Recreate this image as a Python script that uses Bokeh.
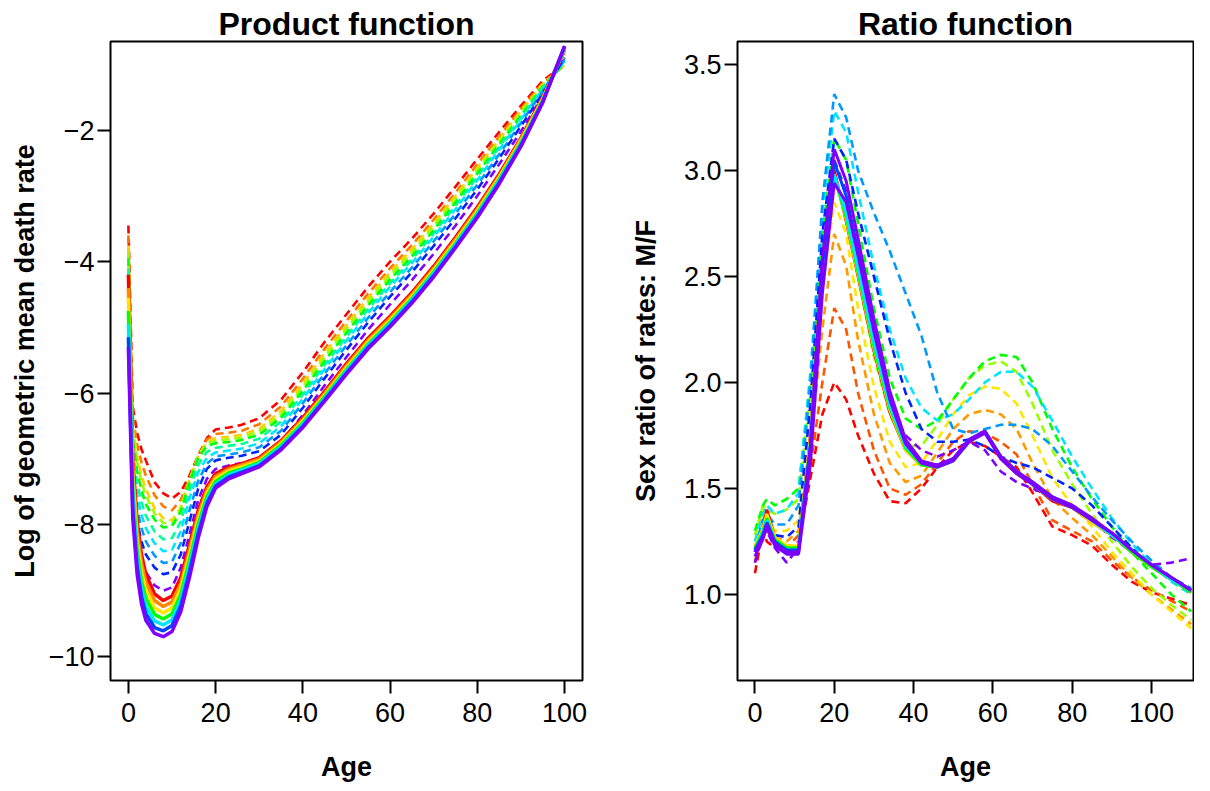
from bokeh.plotting import figure
from bokeh.layouts import row
from bokeh.models import Range1d, FixedTicker
from bokeh.embed import file_html
from bokeh.resources import INLINE

# ---------------- data: left panel (product function) ----------------
AGE_L = [0, 1, 2, 3, 4, 6, 8, 10, 12, 14, 16, 18, 20, 23, 26, 30, 35, 40, 45, 50,
         55, 60, 65, 70, 75, 80, 85, 90, 95, 100]

# observed (dashed) curves, earliest (red) to latest (violet)
prod_obs_red    = [-3.45, -6.20, -6.60, -6.85, -7.02, -7.35, -7.52, -7.60, -7.50, -7.25, -6.95, -6.68, -6.55, -6.52, -6.48, -6.38, -6.10, -5.68, -5.22, -4.80, -4.38, -4.00, -3.65, -3.27, -2.86, -2.44, -2.03, -1.63, -1.25, -1.00]
prod_obs_orange = [-3.60, -6.35, -6.78, -7.05, -7.25, -7.55, -7.72, -7.78, -7.62, -7.30, -6.96, -6.70, -6.62, -6.60, -6.57, -6.47, -6.20, -5.78, -5.32, -4.90, -4.48, -4.10, -3.75, -3.36, -2.95, -2.52, -2.10, -1.68, -1.28, -1.02]
prod_obs_yellow = [-3.75, -6.50, -6.95, -7.25, -7.45, -7.75, -7.90, -7.93, -7.74, -7.32, -6.96, -6.74, -6.68, -6.66, -6.63, -6.54, -6.27, -5.85, -5.39, -4.97, -4.55, -4.16, -3.81, -3.42, -3.00, -2.57, -2.14, -1.71, -1.30, -1.01]
prod_obs_lime   = [-3.85, -6.60, -7.05, -7.35, -7.55, -7.83, -7.97, -7.98, -7.76, -7.32, -6.96, -6.76, -6.72, -6.70, -6.67, -6.58, -6.32, -5.90, -5.45, -5.02, -4.60, -4.21, -3.86, -3.46, -3.04, -2.61, -2.17, -1.74, -1.32, -0.99]
prod_obs_green  = [-3.95, -6.70, -7.18, -7.48, -7.68, -7.92, -8.04, -8.02, -7.80, -7.36, -6.99, -6.80, -6.76, -6.74, -6.71, -6.63, -6.37, -5.96, -5.51, -5.08, -4.66, -4.27, -3.92, -3.52, -3.10, -2.66, -2.22, -1.78, -1.34, -0.98]
prod_obs_spring = [-4.10, -6.85, -7.36, -7.66, -7.86, -8.10, -8.22, -8.20, -7.95, -7.48, -7.09, -6.89, -6.83, -6.80, -6.77, -6.69, -6.43, -6.02, -5.57, -5.14, -4.72, -4.33, -3.97, -3.57, -3.15, -2.71, -2.26, -1.81, -1.36, -0.96]
prod_obs_cyan   = [-4.30, -7.00, -7.55, -7.85, -8.05, -8.28, -8.40, -8.38, -8.10, -7.60, -7.20, -6.98, -6.90, -6.87, -6.84, -6.76, -6.50, -6.08, -5.63, -5.20, -4.78, -4.38, -4.02, -3.62, -3.20, -2.76, -2.30, -1.84, -1.38, -0.95]
prod_obs_azure  = [-4.50, -7.15, -7.75, -8.05, -8.25, -8.47, -8.58, -8.56, -8.28, -7.78, -7.33, -7.07, -6.96, -6.93, -6.90, -6.82, -6.57, -6.15, -5.70, -5.27, -4.85, -4.46, -4.09, -3.69, -3.27, -2.83, -2.37, -1.89, -1.41, -0.92]
prod_obs_blue   = [-4.70, -7.35, -7.95, -8.25, -8.45, -8.65, -8.75, -8.72, -8.45, -7.95, -7.45, -7.15, -7.02, -6.98, -6.95, -6.88, -6.63, -6.22, -5.77, -5.34, -4.92, -4.53, -4.16, -3.76, -3.34, -2.90, -2.43, -1.94, -1.44, -0.90]
prod_obs_violet = [-5.00, -7.60, -8.25, -8.55, -8.72, -8.92, -9.00, -8.95, -8.65, -8.15, -7.62, -7.30, -7.15, -7.10, -7.06, -6.98, -6.74, -6.33, -5.88, -5.45, -5.03, -4.65, -4.28, -3.88, -3.45, -3.00, -2.52, -2.02, -1.48, -0.85]

# forecast (solid) curves
prod_fc_red    = [-4.20, -7.00, -7.95, -8.45, -8.75, -9.05, -9.15, -9.08, -8.80, -8.30, -7.78, -7.42, -7.22, -7.12, -7.07, -6.98, -6.72, -6.37, -5.97, -5.55, -5.16, -4.83, -4.47, -4.07, -3.63, -3.17, -2.67, -2.12, -1.50, -0.78]
prod_fc_orange = [-4.40, -7.15, -8.10, -8.58, -8.87, -9.15, -9.24, -9.17, -8.89, -8.38, -7.85, -7.47, -7.26, -7.15, -7.09, -7.00, -6.74, -6.40, -6.00, -5.58, -5.19, -4.86, -4.50, -4.10, -3.66, -3.20, -2.70, -2.14, -1.52, -0.77]
prod_fc_yellow = [-4.55, -7.30, -8.25, -8.72, -9.00, -9.26, -9.34, -9.26, -8.97, -8.46, -7.92, -7.52, -7.30, -7.18, -7.12, -7.03, -6.77, -6.42, -6.03, -5.61, -5.22, -4.89, -4.53, -4.13, -3.69, -3.23, -2.72, -2.16, -1.53, -0.76]
prod_fc_green  = [-4.75, -7.45, -8.38, -8.85, -9.12, -9.36, -9.43, -9.35, -9.06, -8.54, -7.99, -7.57, -7.34, -7.21, -7.15, -7.05, -6.79, -6.45, -6.05, -5.64, -5.25, -4.92, -4.56, -4.16, -3.72, -3.26, -2.75, -2.19, -1.55, -0.75]
prod_fc_cyan   = [-4.95, -7.60, -8.50, -8.97, -9.24, -9.46, -9.52, -9.44, -9.14, -8.62, -8.06, -7.62, -7.38, -7.24, -7.17, -7.07, -6.82, -6.47, -6.08, -5.66, -5.27, -4.94, -4.58, -4.18, -3.74, -3.28, -2.77, -2.21, -1.56, -0.74]
prod_fc_blue   = [-5.15, -7.75, -8.63, -9.09, -9.35, -9.56, -9.61, -9.53, -9.23, -8.71, -8.13, -7.67, -7.41, -7.27, -7.20, -7.10, -6.84, -6.50, -6.10, -5.69, -5.30, -4.97, -4.61, -4.21, -3.77, -3.31, -2.80, -2.23, -1.57, -0.73]
prod_fc_violet = [-5.30, -7.90, -8.75, -9.20, -9.45, -9.65, -9.70, -9.62, -9.32, -8.80, -8.20, -7.72, -7.44, -7.30, -7.22, -7.12, -6.86, -6.52, -6.12, -5.71, -5.32, -4.99, -4.63, -4.23, -3.79, -3.33, -2.82, -2.25, -1.58, -0.72]

# ---------------- data: right panel (ratio function) ----------------
AGE_R = [0, 2, 3, 5, 8, 11, 14, 17, 20, 23, 26, 30, 34, 38, 42, 46, 50, 54, 58, 62,
         66, 70, 75, 80, 85, 90, 95, 100, 105, 110]

ratio_obs_red    = [1.10, 1.30, 1.25, 1.22, 1.20, 1.25, 1.55, 1.85, 2.00, 1.92, 1.75, 1.57, 1.44, 1.43, 1.50, 1.60, 1.68, 1.72, 1.70, 1.65, 1.60, 1.48, 1.32, 1.28, 1.23, 1.14, 1.06, 1.01, 0.98, 0.95]
ratio_obs_redor  = [1.15, 1.35, 1.30, 1.25, 1.22, 1.28, 1.60, 2.00, 2.35, 2.25, 1.95, 1.68, 1.50, 1.47, 1.52, 1.62, 1.72, 1.77, 1.76, 1.72, 1.66, 1.52, 1.35, 1.30, 1.25, 1.16, 1.08, 1.02, 0.97, 0.92]
ratio_obs_orange = [1.20, 1.38, 1.32, 1.27, 1.25, 1.30, 1.70, 2.25, 2.70, 2.55, 2.20, 1.85, 1.62, 1.53, 1.56, 1.67, 1.78, 1.85, 1.87, 1.85, 1.78, 1.62, 1.45, 1.36, 1.28, 1.18, 1.08, 1.00, 0.93, 0.86]
ratio_obs_yellow = [1.25, 1.40, 1.35, 1.30, 1.30, 1.35, 1.85, 2.45, 2.85, 2.70, 2.35, 1.98, 1.72, 1.60, 1.62, 1.73, 1.85, 1.94, 1.98, 1.97, 1.90, 1.75, 1.55, 1.42, 1.32, 1.20, 1.10, 1.00, 0.92, 0.84]
ratio_obs_lime   = [1.28, 1.42, 1.40, 1.38, 1.40, 1.45, 1.95, 2.55, 2.95, 2.82, 2.50, 2.12, 1.85, 1.70, 1.70, 1.80, 1.92, 2.02, 2.08, 2.10, 2.05, 1.90, 1.68, 1.52, 1.38, 1.25, 1.13, 1.03, 0.95, 0.88]
ratio_obs_green  = [1.30, 1.42, 1.45, 1.42, 1.45, 1.50, 2.00, 2.70, 3.15, 3.05, 2.75, 2.35, 2.02, 1.83, 1.78, 1.82, 1.92, 2.02, 2.10, 2.13, 2.12, 2.00, 1.78, 1.60, 1.45, 1.32, 1.20, 1.10, 1.00, 0.92]
ratio_obs_cyan   = [1.25, 1.38, 1.42, 1.38, 1.40, 1.48, 2.05, 2.80, 3.28, 3.18, 2.90, 2.55, 2.25, 2.02, 1.88, 1.82, 1.85, 1.92, 2.00, 2.05, 2.05, 1.98, 1.82, 1.65, 1.50, 1.36, 1.24, 1.14, 1.06, 1.00]
ratio_obs_azure  = [1.22, 1.35, 1.38, 1.33, 1.33, 1.42, 2.00, 2.85, 3.36, 3.25, 3.00, 2.80, 2.62, 2.42, 2.22, 1.95, 1.78, 1.76, 1.78, 1.80, 1.80, 1.78, 1.70, 1.58, 1.46, 1.35, 1.25, 1.16, 1.08, 1.03]
ratio_obs_blue   = [1.20, 1.32, 1.35, 1.28, 1.27, 1.32, 1.90, 2.70, 3.15, 3.05, 2.80, 2.50, 2.20, 1.95, 1.78, 1.72, 1.72, 1.73, 1.70, 1.65, 1.62, 1.60, 1.55, 1.50, 1.42, 1.32, 1.22, 1.13, 1.07, 1.02]
ratio_obs_violet = [1.15, 1.28, 1.30, 1.22, 1.15, 1.22, 1.75, 2.55, 3.05, 2.90, 2.55, 2.15, 1.88, 1.75, 1.68, 1.65, 1.68, 1.72, 1.68, 1.58, 1.53, 1.50, 1.46, 1.42, 1.35, 1.27, 1.20, 1.14, 1.15, 1.17]

ratio_fc_red     = [1.22, 1.30, 1.40, 1.27, 1.22, 1.22, 1.75, 2.55, 3.00, 2.76, 2.50, 2.15, 1.86, 1.68, 1.61, 1.60, 1.63, 1.72, 1.77, 1.64, 1.57, 1.52, 1.44, 1.41, 1.34, 1.28, 1.20, 1.13, 1.07, 1.01]
ratio_fc_yellow  = [1.23, 1.31, 1.38, 1.27, 1.23, 1.23, 1.74, 2.53, 2.98, 2.77, 2.51, 2.16, 1.87, 1.68, 1.61, 1.60, 1.63, 1.72, 1.77, 1.65, 1.58, 1.52, 1.45, 1.41, 1.34, 1.28, 1.20, 1.13, 1.07, 1.01]
ratio_fc_green   = [1.22, 1.30, 1.36, 1.26, 1.22, 1.22, 1.72, 2.52, 2.97, 2.78, 2.52, 2.17, 1.88, 1.69, 1.61, 1.60, 1.63, 1.72, 1.77, 1.65, 1.58, 1.52, 1.45, 1.41, 1.35, 1.28, 1.20, 1.13, 1.07, 1.01]
ratio_fc_cyan    = [1.21, 1.29, 1.35, 1.25, 1.21, 1.21, 1.71, 2.52, 2.98, 2.80, 2.54, 2.19, 1.89, 1.70, 1.62, 1.60, 1.63, 1.72, 1.77, 1.65, 1.58, 1.52, 1.45, 1.42, 1.35, 1.28, 1.21, 1.14, 1.07, 1.02]
ratio_fc_blue    = [1.21, 1.28, 1.34, 1.25, 1.21, 1.21, 1.70, 2.55, 3.04, 2.88, 2.62, 2.25, 1.93, 1.72, 1.62, 1.61, 1.64, 1.73, 1.77, 1.65, 1.58, 1.53, 1.46, 1.42, 1.35, 1.29, 1.21, 1.14, 1.08, 1.02]
ratio_fc_violet1 = [1.20, 1.27, 1.33, 1.24, 1.20, 1.20, 1.70, 2.58, 3.10, 2.95, 2.68, 2.30, 1.96, 1.73, 1.63, 1.61, 1.64, 1.73, 1.77, 1.65, 1.58, 1.53, 1.46, 1.42, 1.36, 1.29, 1.21, 1.14, 1.08, 1.02]
ratio_fc_violet2 = [1.18, 1.26, 1.32, 1.23, 1.19, 1.19, 1.62, 2.42, 2.94, 2.85, 2.60, 2.24, 1.92, 1.71, 1.62, 1.60, 1.63, 1.72, 1.76, 1.64, 1.57, 1.52, 1.45, 1.41, 1.35, 1.29, 1.21, 1.14, 1.08, 1.02]

# tick labels
X_TICKS = [0, 20, 40, 60, 80, 100]
X_TICK_LABELS = ["0", "20", "40", "60", "80", "100"]
YL_TICKS = [-10, -8, -6, -4, -2]
YL_TICK_LABELS = ["\u221210", "\u22128", "\u22126", "\u22124", "\u22122"]
YR_TICKS = [1.0, 1.5, 2.0, 2.5, 3.0, 3.5]
YR_TICK_LABELS = ["1.0", "1.5", "2.0", "2.5", "3.0", "3.5"]

# ---------------- styling ----------------
FONT = "Liberation Sans"
FRAME_H = 639


def style(p, title, ylabel, yticks, ylabels, ylab_standoff):
    p.grid.visible = False
    p.outline_line_color = "black"
    p.outline_line_width = 2
    p.outline_line_alpha = 1.0
    p.background_fill_color = "white"
    p.border_fill_color = "white"
    p.title.text = title
    p.title.align = "center"
    p.title.text_font = FONT
    p.title.text_font_size = "32px"
    p.title.text_font_style = "bold"
    p.title.text_color = "black"
    p.title.standoff = 0
    for ax in (p.xaxis[0], p.yaxis[0]):
        ax.axis_line_color = None
        ax.major_tick_in = 0
        ax.major_tick_out = 13
        ax.minor_tick_out = 0
        ax.minor_tick_in = 0
        ax.major_tick_line_width = 2
        ax.major_tick_line_color = "black"
        ax.major_label_text_font = FONT
        ax.major_label_text_font_size = "27px"
        ax.major_label_text_color = "black"
        ax.axis_label_text_font = FONT
        ax.axis_label_text_font_size = "27px"
        ax.axis_label_text_font_style = "bold"
        ax.axis_label_text_color = "black"
    p.xaxis.ticker = FixedTicker(ticks=X_TICKS)
    p.xaxis.major_label_overrides = dict(zip(X_TICKS, X_TICK_LABELS))
    p.xaxis.axis_label = "Age"
    p.xaxis.major_label_standoff = 9
    p.xaxis.axis_label_standoff = 27
    p.yaxis.ticker = FixedTicker(ticks=yticks)
    p.yaxis.major_label_overrides = dict(zip(yticks, ylabels))
    p.yaxis.axis_label = ylabel
    p.yaxis.major_label_standoff = 3
    p.yaxis.axis_label_standoff = ylab_standoff


# ---------------- left figure ----------------
FW1 = 472
p1 = figure(x_range=Range1d(-4.1, 104.1), y_range=Range1d(-10.365, -0.655),
            frame_width=FW1, frame_height=FRAME_H,
            min_border_left=110, min_border_right=18, min_border_top=41, min_border_bottom=103,
            output_backend="svg", toolbar_location=None)
style(p1, "Product function", "Log of geometric mean death rate", YL_TICKS, YL_TICK_LABELS, 6)

prod_obs = [prod_obs_red, prod_obs_orange, prod_obs_yellow, prod_obs_lime, prod_obs_green,
            prod_obs_spring, prod_obs_cyan, prod_obs_azure, prod_obs_blue, prod_obs_violet]
prod_obs_cols = ["#FF0000", "#FF7700", "#FFD000", "#99FF00", "#00FF00",
                 "#00FF99", "#00E5FF", "#0099FF", "#0022FF", "#8000FF"]
for ys, c in zip(prod_obs, prod_obs_cols):
    p1.line(AGE_L, ys, line_color=c, line_width=2.6, line_dash="8 5")

prod_fc = [prod_fc_red, prod_fc_orange, prod_fc_yellow, prod_fc_green, prod_fc_cyan,
           prod_fc_blue, prod_fc_violet]
prod_fc_cols = ["#FF0000", "#FF8800", "#FFE600", "#00FF00", "#00E5FF", "#0044FF", "#8000FF"]
for ys, c in zip(prod_fc, prod_fc_cols):
    p1.line(AGE_L, ys, line_color=c, line_width=3.5)

# ---------------- right figure ----------------
FW2 = 456
p2 = figure(x_range=Range1d(-4.4, 110.6), y_range=Range1d(0.594, 3.608),
            frame_width=FW2, frame_height=FRAME_H,
            min_border_left=137, min_border_right=1, min_border_top=41, min_border_bottom=103,
            output_backend="svg", toolbar_location=None)
style(p2, "Ratio function", "Sex ratio of rates: M/F", YR_TICKS, YR_TICK_LABELS, 20)

ratio_obs = [ratio_obs_red, ratio_obs_redor, ratio_obs_orange, ratio_obs_yellow, ratio_obs_lime,
             ratio_obs_green, ratio_obs_cyan, ratio_obs_azure, ratio_obs_blue, ratio_obs_violet]
ratio_obs_cols = ["#FF0000", "#FF5500", "#FF9900", "#FFE600", "#99FF00",
                  "#00FF00", "#00E5FF", "#0099FF", "#0022FF", "#8000FF"]
for ys, c in zip(ratio_obs, ratio_obs_cols):
    p2.line(AGE_R, ys, line_color=c, line_width=2.6, line_dash="8 5")

ratio_fc = [ratio_fc_red, ratio_fc_yellow, ratio_fc_green, ratio_fc_cyan, ratio_fc_blue,
            ratio_fc_violet1, ratio_fc_violet2]
ratio_fc_cols = ["#FF0000", "#FFE600", "#00FF00", "#00E5FF", "#0044FF", "#8000FF", "#7A00FF"]
for ys, c in zip(ratio_fc, ratio_fc_cols):
    p2.line(AGE_R, ys, line_color=c, line_width=3)

layout = row(p1, p2)
open("out.html", "w").write(file_html(layout, INLINE))
